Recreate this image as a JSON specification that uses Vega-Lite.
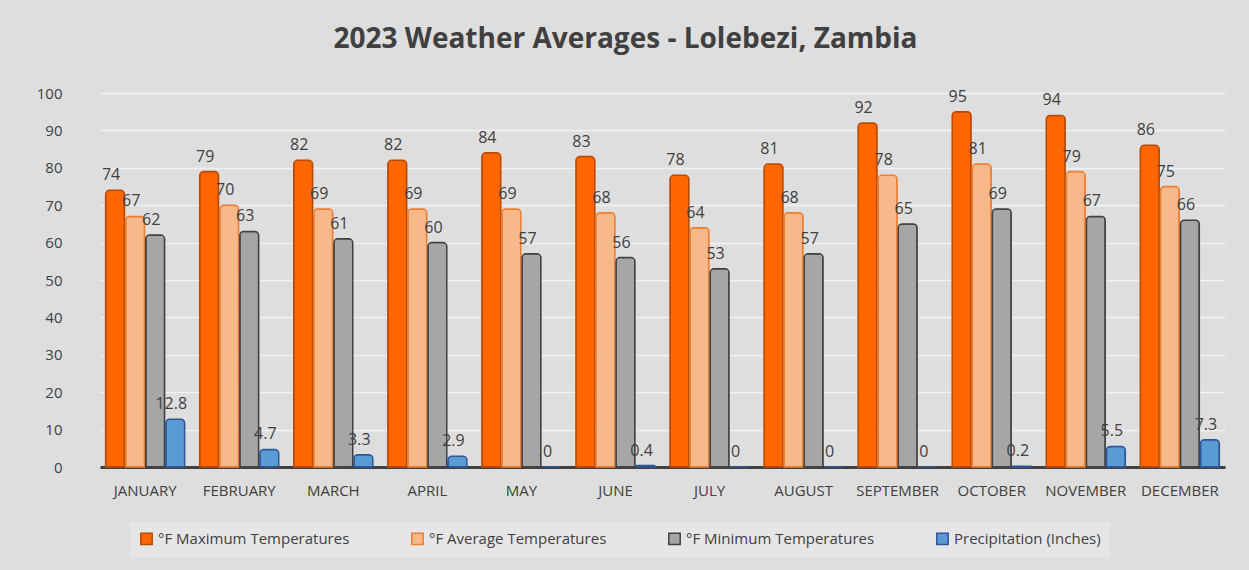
{
  "$schema": "https://vega.github.io/schema/vega-lite/v6.json",
  "autosize": "none",
  "width": 1125,
  "height": 374,
  "padding": {"left": 100, "top": 93, "right": 24, "bottom": 103},
  "background": "#dedede",
  "title": {
    "text": "2023 Weather Averages - Lolebezi, Zambia",
    "fontSize": 28,
    "font": "Open Sans",
    "fontWeight": "bold",
    "color": "#404040",
    "anchor": "middle",
    "dx": -37,
    "offset": 32
  },
  "config": {
    "view": {"stroke": null},
    "font": "Open Sans"
  },
  "data": {
    "values": [
      {"month": "JANUARY", "series": "°F Maximum Temperatures", "value": 74, "label": "74"},
      {"month": "JANUARY", "series": "°F Average Temperatures", "value": 67, "label": "67"},
      {"month": "JANUARY", "series": "°F Minimum Temperatures", "value": 62, "label": "62"},
      {"month": "JANUARY", "series": "Precipitation (Inches)", "value": 12.8, "label": "12.8"},
      {"month": "FEBRUARY", "series": "°F Maximum Temperatures", "value": 79, "label": "79"},
      {"month": "FEBRUARY", "series": "°F Average Temperatures", "value": 70, "label": "70"},
      {"month": "FEBRUARY", "series": "°F Minimum Temperatures", "value": 63, "label": "63"},
      {"month": "FEBRUARY", "series": "Precipitation (Inches)", "value": 4.7, "label": "4.7"},
      {"month": "MARCH", "series": "°F Maximum Temperatures", "value": 82, "label": "82"},
      {"month": "MARCH", "series": "°F Average Temperatures", "value": 69, "label": "69"},
      {"month": "MARCH", "series": "°F Minimum Temperatures", "value": 61, "label": "61"},
      {"month": "MARCH", "series": "Precipitation (Inches)", "value": 3.3, "label": "3.3"},
      {"month": "APRIL", "series": "°F Maximum Temperatures", "value": 82, "label": "82"},
      {"month": "APRIL", "series": "°F Average Temperatures", "value": 69, "label": "69"},
      {"month": "APRIL", "series": "°F Minimum Temperatures", "value": 60, "label": "60"},
      {"month": "APRIL", "series": "Precipitation (Inches)", "value": 2.9, "label": "2.9"},
      {"month": "MAY", "series": "°F Maximum Temperatures", "value": 84, "label": "84"},
      {"month": "MAY", "series": "°F Average Temperatures", "value": 69, "label": "69"},
      {"month": "MAY", "series": "°F Minimum Temperatures", "value": 57, "label": "57"},
      {"month": "MAY", "series": "Precipitation (Inches)", "value": 0, "label": "0"},
      {"month": "JUNE", "series": "°F Maximum Temperatures", "value": 83, "label": "83"},
      {"month": "JUNE", "series": "°F Average Temperatures", "value": 68, "label": "68"},
      {"month": "JUNE", "series": "°F Minimum Temperatures", "value": 56, "label": "56"},
      {"month": "JUNE", "series": "Precipitation (Inches)", "value": 0.4, "label": "0.4"},
      {"month": "JULY", "series": "°F Maximum Temperatures", "value": 78, "label": "78"},
      {"month": "JULY", "series": "°F Average Temperatures", "value": 64, "label": "64"},
      {"month": "JULY", "series": "°F Minimum Temperatures", "value": 53, "label": "53"},
      {"month": "JULY", "series": "Precipitation (Inches)", "value": 0, "label": "0"},
      {"month": "AUGUST", "series": "°F Maximum Temperatures", "value": 81, "label": "81"},
      {"month": "AUGUST", "series": "°F Average Temperatures", "value": 68, "label": "68"},
      {"month": "AUGUST", "series": "°F Minimum Temperatures", "value": 57, "label": "57"},
      {"month": "AUGUST", "series": "Precipitation (Inches)", "value": 0, "label": "0"},
      {"month": "SEPTEMBER", "series": "°F Maximum Temperatures", "value": 92, "label": "92"},
      {"month": "SEPTEMBER", "series": "°F Average Temperatures", "value": 78, "label": "78"},
      {"month": "SEPTEMBER", "series": "°F Minimum Temperatures", "value": 65, "label": "65"},
      {"month": "SEPTEMBER", "series": "Precipitation (Inches)", "value": 0, "label": "0"},
      {"month": "OCTOBER", "series": "°F Maximum Temperatures", "value": 95, "label": "95"},
      {"month": "OCTOBER", "series": "°F Average Temperatures", "value": 81, "label": "81"},
      {"month": "OCTOBER", "series": "°F Minimum Temperatures", "value": 69, "label": "69"},
      {"month": "OCTOBER", "series": "Precipitation (Inches)", "value": 0.2, "label": "0.2"},
      {"month": "NOVEMBER", "series": "°F Maximum Temperatures", "value": 94, "label": "94"},
      {"month": "NOVEMBER", "series": "°F Average Temperatures", "value": 79, "label": "79"},
      {"month": "NOVEMBER", "series": "°F Minimum Temperatures", "value": 67, "label": "67"},
      {"month": "NOVEMBER", "series": "Precipitation (Inches)", "value": 5.5, "label": "5.5"},
      {"month": "DECEMBER", "series": "°F Maximum Temperatures", "value": 86, "label": "86"},
      {"month": "DECEMBER", "series": "°F Average Temperatures", "value": 75, "label": "75"},
      {"month": "DECEMBER", "series": "°F Minimum Temperatures", "value": 66, "label": "66"},
      {"month": "DECEMBER", "series": "Precipitation (Inches)", "value": 7.3, "label": "7.3"}
    ]
  },
  "encoding": {
    "x": {
      "field": "month",
      "type": "nominal",
      "sort": ["JANUARY", "FEBRUARY", "MARCH", "APRIL", "MAY", "JUNE", "JULY", "AUGUST", "SEPTEMBER", "OCTOBER", "NOVEMBER", "DECEMBER"],
      "scale": {"paddingInner": 0.16, "paddingOuter": 0.06},
      "axis": {
        "title": null,
        "labelAngle": 0,
        "labelFontSize": 15,
        "labelColor": "#404040",
        "labelPadding": 16,
        "ticks": false,
        "domainColor": "#404040",
        "domainWidth": 3
      }
    },
    "xOffset": {
      "field": "series",
      "type": "nominal",
      "sort": ["°F Maximum Temperatures", "°F Average Temperatures", "°F Minimum Temperatures", "Precipitation (Inches)"],
      "scale": {"paddingInner": 0.06}
    },
    "y": {
      "field": "value",
      "type": "quantitative",
      "scale": {"domain": [0, 100]},
      "axis": {
        "title": null,
        "values": [0, 10, 20, 30, 40, 50, 60, 70, 80, 90, 100],
        "labelFontSize": 15,
        "labelColor": "#404040",
        "labelPadding": 38,
        "ticks": false,
        "domain": false,
        "gridColor": "#f2f2f2",
        "gridWidth": 1.5
      }
    }
  },
  "layer": [
    {
      "mark": {"type": "bar", "strokeWidth": 1.5, "cornerRadiusTopLeft": 4, "cornerRadiusTopRight": 4},
      "encoding": {
        "color": {
          "field": "series",
          "type": "nominal",
          "scale": {
            "domain": ["°F Maximum Temperatures", "°F Average Temperatures", "°F Minimum Temperatures", "Precipitation (Inches)"],
            "range": ["#ff6600", "#f8b98a", "#a6a6a6", "#5b9bd5"]
          },
          "legend": {
            "title": null,
            "orient": "none",
            "legendX": 30,
            "legendY": 429,
            "direction": "horizontal",
            "columns": 4,
            "columnPadding": 58,
            "labelFontSize": 15,
            "labelLimit": 0,
            "labelColor": "#404040",
            "symbolType": "square",
            "symbolSize": 130,
            "symbolStrokeWidth": 1.5,
            "fillColor": "#e6e6e6",
            "padding": 9
          }
        },
        "stroke": {
          "field": "series",
          "type": "nominal",
          "scale": {
            "domain": ["°F Maximum Temperatures", "°F Average Temperatures", "°F Minimum Temperatures", "Precipitation (Inches)"],
            "range": ["#b84a00", "#ed7d31", "#404040", "#2f5597"]
          },
          "legend": null
        }
      }
    },
    {
      "mark": {"type": "text", "dy": -15, "dx": -4, "fontSize": 16, "color": "#404040"},
      "encoding": {
        "text": {"field": "label"}
      }
    }
  ]
}
